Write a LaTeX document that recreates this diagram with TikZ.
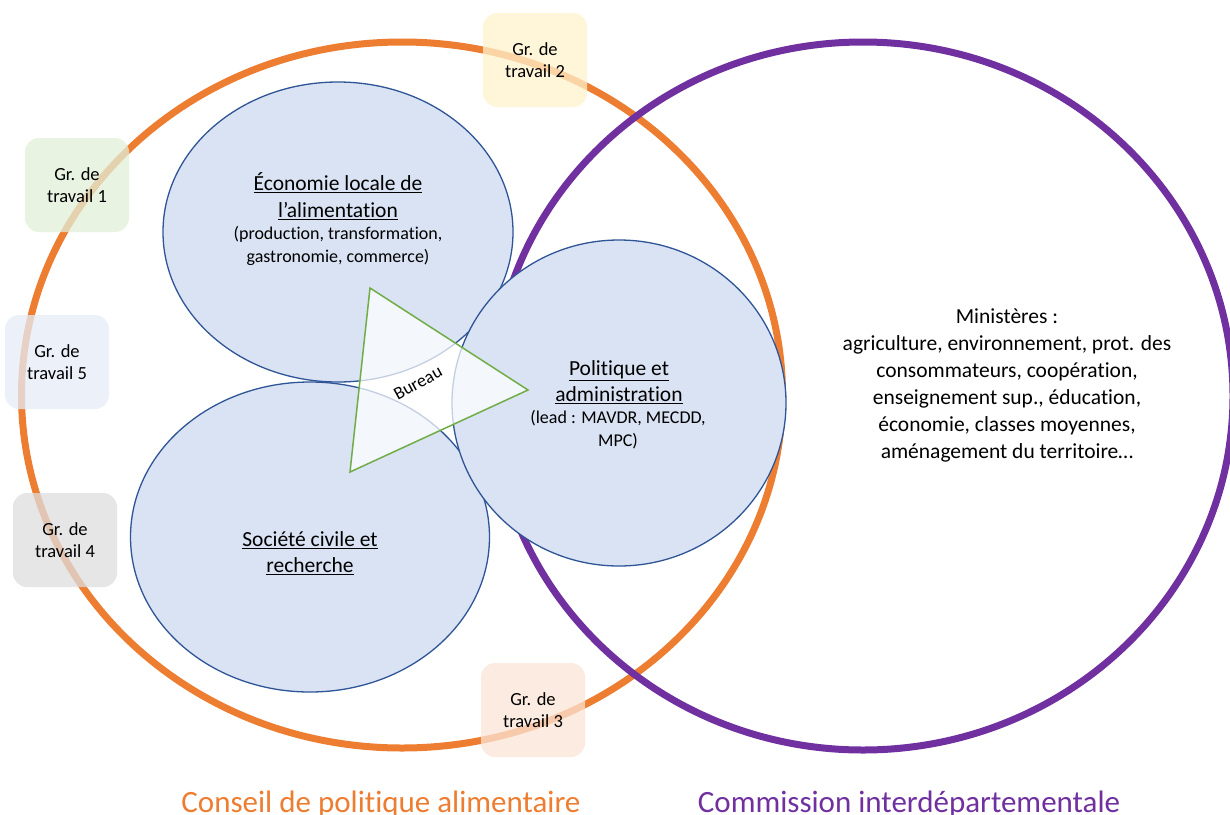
\documentclass[tikz,border=0pt]{standalone}
\usepackage{fontspec}
\setmainfont{Carlito}[Ligatures={NoCommon}]
\usetikzlibrary{shapes.geometric}
\definecolor{corange}{HTML}{ED7D31}
\definecolor{cpurple}{HTML}{7030A0}
\definecolor{cblue}{HTML}{DAE3F3}
\definecolor{cbluedk}{HTML}{2F5597}
\definecolor{cgreen}{HTML}{70AD47}
\definecolor{g1}{HTML}{E2EFD9}
\definecolor{g2}{HTML}{FFF2CC}
\definecolor{g3}{HTML}{FBE5D6}
\definecolor{g4}{HTML}{DEDEDE}
\definecolor{g5}{HTML}{E6ECF8}
\tikzset{
  bigell/.style={ellipse, draw, line width=7pt, inner sep=0pt},
  pillar/.style={ellipse, draw=cbluedk, fill=cblue, line width=1.3pt, inner sep=0pt},
  wg/.style={rounded corners=14pt, minimum width=104pt, minimum height=94pt, fill opacity=0.75, text opacity=1, align=center, font=\fontsize{18.5}{22}\selectfont, inner sep=0pt},
  title/.style={align=center, font=\fontsize{21.5}{26.5}\selectfont},
  sub/.style={align=center, font=\fontsize{18}{23}\selectfont},
}
\begin{document}
\begin{tikzpicture}[x=1pt,y=-1pt]
\useasboundingbox (0,0) rectangle (1230,814);
\fill[white] (0,0) rectangle (1230,814);
% big ellipses
\node[bigell, draw=corange, minimum width=761pt, minimum height=706pt] (cpa) at (402,395) {};
\node[bigell, draw=cpurple, minimum width=740pt, minimum height=708pt] (cid) at (863,396) {};
% pillars
\node[pillar, minimum width=350pt, minimum height=300pt] (eco) at (338,232) {};
\node[pillar, minimum width=359pt, minimum height=310pt] (soc) at (310,537) {};
\node[pillar, minimum width=334pt, minimum height=326pt] (pol) at (619,403) {};
% bureau triangle
\coordinate (t1) at (370,288);
\coordinate (t2) at (528,390);
\coordinate (t3) at (350,472);
\fill[white, opacity=0.72] (t1) -- (t2) -- (t3) -- cycle;
\draw[cgreen, line width=1.5pt, line join=miter] (t1) -- (t2) -- (t3) -- cycle;
\node[rotate=29, font=\fontsize{18}{20}\selectfont] (bur) at (418,383) {Bureau};
% texts
\node[title] (ecot) at (338,196) {\underline{Économie locale de}\\\underline{l’alimentation}};
\node[sub] (ecos) at (338,246) {(production, transformation,\\gastronomie, commerce)};
\node[title] (polt) at (619,382) {\underline{Politique et}\\\underline{administration}};
\node[sub] (pols) at (618,430) {(lead : MAVDR, MECDD,\\MPC)};
\node[title] (soct) at (310,553) {\underline{Société civile et}\\\underline{recherche}};
\node[align=center, font=\fontsize{21.5}{27}\selectfont] (min) at (1007,385) {Ministères :\\agriculture, environnement, prot. des\\consommateurs, coopération,\\enseignement sup., éducation,\\économie, classes moyennes,\\aménagement du territoire…};
% working groups
\node[wg, fill=g1] (wg1) at (77,185) {Gr. de\\travail 1};
\node[wg, fill=g2] (wg2) at (535,60) {Gr. de\\travail 2};
\node[wg, fill=g3] (wg3) at (533,710) {Gr. de\\travail 3};
\node[wg, fill=g4] (wg4) at (65,540) {Gr. de\\travail 4};
\node[wg, fill=g5] (wg5) at (57,362) {Gr. de\\travail 5};
% bottom labels
\node[corange, anchor=base, font=\fontsize{31}{34}\selectfont] (lcpa) at (381,812) {Conseil de politique alimentaire};
\node[cpurple, anchor=base, font=\fontsize{31}{34}\selectfont] (lcid) at (909,812) {Commission interdépartementale};
\end{tikzpicture}
\end{document}
